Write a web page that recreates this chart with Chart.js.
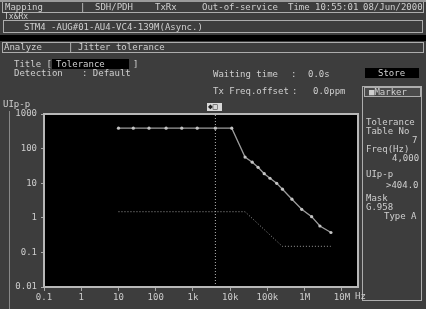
<!DOCTYPE html>
<html><head><meta charset="utf-8">
<script src="https://cdn.jsdelivr.net/npm/chart.js@4/dist/chart.umd.min.js"></script>
<style>
html,body{margin:0;padding:0;background:#3c3c3c;width:426px;height:309px;overflow:hidden;}
#wrap{position:relative;width:426px;height:309px;background:#3d3d3d;}
#c{position:absolute;left:0;top:0;}
.t{position:absolute;font-family:"DejaVu Sans Mono",monospace;font-size:9px;line-height:9px;color:#cfcfcf;white-space:pre;}
.b{position:absolute;box-sizing:border-box;border:1px solid #adadad;}
</style></head><body><div id="wrap">
<canvas id="c" width="426" height="309"></canvas>

<div class="b" style="left:0;top:0;width:426px;height:2px;border:none;background:#9a9a9a"></div>
<div class="b" style="left:2px;top:2px;width:422px;height:11px;border-top:none;"></div>
<div class="t" style="left:5px;top:3px">Mapping</div>
<div class="t" style="left:80px;top:3px">|</div>
<div class="t" style="left:95px;top:3px">SDH/PDH</div>
<div class="t" style="left:155px;top:3px">TxRx</div>
<div class="t" style="left:202px;top:3px">Out-of-service</div>
<div class="t" style="left:288px;top:3px">Time</div>
<div class="t" style="left:315px;top:3px">10:55:01</div>
<div class="t" style="left:363px;top:3px">08/Jun/2000</div>
<div class="t" style="left:4px;top:13px;font-size:8px;line-height:8px">Tx&amp;Rx</div>
<div class="b" style="left:3px;top:20px;width:420px;height:13px;"></div>
<div class="t" style="left:24px;top:23px">STM4 -AUG#01-AU4-VC4-139M(Async.)</div>
<div class="b" style="left:0;top:35px;width:426px;height:6px;border:none;background:#000"></div>
<div class="b" style="left:2px;top:42px;width:422px;height:11px;"></div>
<div class="t" style="left:4px;top:43px">Analyze</div>
<div class="t" style="left:68px;top:43px">|</div>
<div class="t" style="left:78px;top:43px">Jitter tolerance</div>

<div class="t" style="left:14px;top:60px">Title [</div>
<div class="b" style="left:52px;top:59px;width:77px;height:10px;border:none;background:#000"></div>
<div class="t" style="left:56px;top:60px">Tolerance</div>
<div class="t" style="left:133px;top:60px">]</div>
<div class="t" style="left:14px;top:69px">Detection</div>
<div class="t" style="left:82px;top:69px">: Default</div>
<div class="t" style="left:213px;top:70px">Waiting time</div>
<div class="t" style="left:291px;top:70px">:</div>
<div class="t" style="left:308px;top:70px">0.0s</div>
<div class="b" style="left:365px;top:68px;width:54px;height:10px;border:none;background:#000"></div>
<div class="t" style="left:378px;top:69px">Store</div>
<div class="t" style="left:213px;top:87px">Tx Freq.offset</div>
<div class="t" style="left:292px;top:87px">:</div>
<div class="t" style="left:313px;top:87px">0.0ppm</div>
<div class="b" style="left:362px;top:86px;width:60px;height:215px;"></div>
<div class="b" style="left:364px;top:87px;width:57px;height:10px;background:#4a4a4a"></div>
<div class="t" style="left:369px;top:88px">■Marker</div>
<div class="t" style="left:366px;top:118px">Tolerance</div>
<div class="t" style="left:366px;top:127px">Table No</div>
<div class="t" style="left:412px;top:136px">7</div>
<div class="t" style="left:366px;top:145px">Freq(Hz)</div>
<div class="t" style="left:392px;top:154px">4,000</div>
<div class="t" style="left:366px;top:170px">UIp-p</div>
<div class="t" style="left:386px;top:181px">&gt;404.0</div>
<div class="t" style="left:366px;top:194px">Mask</div>
<div class="t" style="left:366px;top:203px">G.958</div>
<div class="t" style="left:384px;top:212px">Type A</div>

<div class="b" style="left:9px;top:111px;width:1px;height:198px;border:none;background:#888"></div>
<div class="t" style="left:3px;top:100px">UIp-p</div>
<div class="b" style="left:207px;top:103px;width:15px;height:8px;border:none;background:#d8d8d8"></div>
<div class="t" style="left:208px;top:102px;color:#222;font-size:8px">◆□</div>
<div class="t" style="left:355px;top:292px">Hz</div>
</div>
<script>
// ---- data ----
const xTickValues = [0.1, 1, 10, 100, 1000, 10000, 100000, 1000000, 10000000];
const xTickLabels = ["0.1", "1", "10", "100", "1k", "10k", "100k", "1M", "10M"];
const yTickValues = [0.01, 0.1, 1, 10, 100, 1000];
const yTickLabels = ["0.01", "0.1", "1", "10", "100", "1000"];

// measured tolerance (Hz, UIp-p)
const tolFreq = [10, 25, 66, 190, 500, 1300, 4000, 11000, 25000, 39000, 56000, 82000, 117000, 177000, 253000, 455000, 830000, 1540000, 2560000, 5070000];
const tolUI   = [390, 390, 390, 390, 390, 390, 390, 390, 57, 40.5, 28.8, 18.8, 13.9, 9.9, 6.7, 3.45, 1.76, 1.08, 0.58, 0.376];

// G.958 Type A mask
const maskFreq = [10, 25000, 250000, 5000000];
const maskUI   = [1.5, 1.5, 0.15, 0.15];

// marker cursor
const cursorFreq = 4000;

const pts = (xs, ys) => xs.map((x, i) => ({x: x, y: ys[i]}));

const areaPlugin = {
  id: 'area',
  beforeDatasetsDraw(chart) {
    const {ctx, chartArea: a} = chart;
    ctx.save(); ctx.fillStyle = '#000'; ctx.fillRect(a.left, a.top, a.right - a.left, a.bottom - a.top); ctx.restore();
  },
  afterDraw(chart) {
    const {ctx, chartArea: a} = chart;
    ctx.save(); ctx.strokeStyle = '#b8b8b8'; ctx.lineWidth = 2;
    ctx.strokeRect(a.left, a.top, a.right - a.left, a.bottom - a.top); ctx.restore();
  }
};

const font = {family: '"DejaVu Sans Mono", monospace', size: 9};

new Chart(document.getElementById('c'), {
  type: 'scatter',
  data: {
    datasets: [
      {
        label: 'Cursor',
        data: [{x: cursorFreq, y: yTickValues[0]}, {x: cursorFreq, y: yTickValues[yTickValues.length - 1]}],
        showLine: true, borderColor: '#b5b5b5', borderWidth: 1, borderDash: [1, 2], pointRadius: 0
      },
      {
        label: 'Mask',
        data: pts(maskFreq, maskUI),
        showLine: true, borderColor: '#9a9a9a', borderWidth: 1, borderDash: [1, 2], pointRadius: 0
      },
      {
        label: 'Tolerance',
        data: pts(tolFreq, tolUI),
        showLine: true, borderColor: '#9c9c9c', borderWidth: 1.3,
        pointRadius: 1.6, pointBackgroundColor: '#c4c4c4', pointBorderColor: '#c4c4c4', pointBorderWidth: 0
      }
    ]
  },
  options: {
    responsive: false, animation: false, devicePixelRatio: 1,
    layout: {padding: {left: 0, top: 114, right: 68, bottom: 0}},
    plugins: {legend: {display: false}, tooltip: {enabled: false}},
    scales: {
      x: {
        type: 'logarithmic', min: 0.1, max: 2.7e7,
        afterBuildTicks: s => { s.ticks = xTickValues.map(v => ({value: v})); },
        afterFit: s => { s.height = 22; },
        ticks: {
          color: '#cccccc', font: font, padding: 1, maxRotation: 0, autoSkip: false,
          callback: v => { const i = xTickValues.indexOf(v); return i >= 0 ? xTickLabels[i] : ''; }
        },
        grid: {display: true, drawOnChartArea: false, drawTicks: true, tickLength: 4, color: '#a8a8a8'},
        border: {display: true, color: '#b8b8b8'}
      },
      y: {
        type: 'logarithmic', min: 0.01, max: 1000,
        afterBuildTicks: s => { s.ticks = yTickValues.map(v => ({value: v})); },
        afterFit: s => { s.width = 44; },
        ticks: {
          color: '#cccccc', font: font, padding: 4, autoSkip: false,
          callback: v => { const i = yTickValues.indexOf(v); return i >= 0 ? yTickLabels[i] : ''; }
        },
        grid: {display: true, drawOnChartArea: false, drawTicks: true, tickLength: 3, color: '#a8a8a8'},
        border: {display: true, color: '#b8b8b8'}
      }
    }
  },
  plugins: [areaPlugin]
});
</script>
</body></html>
